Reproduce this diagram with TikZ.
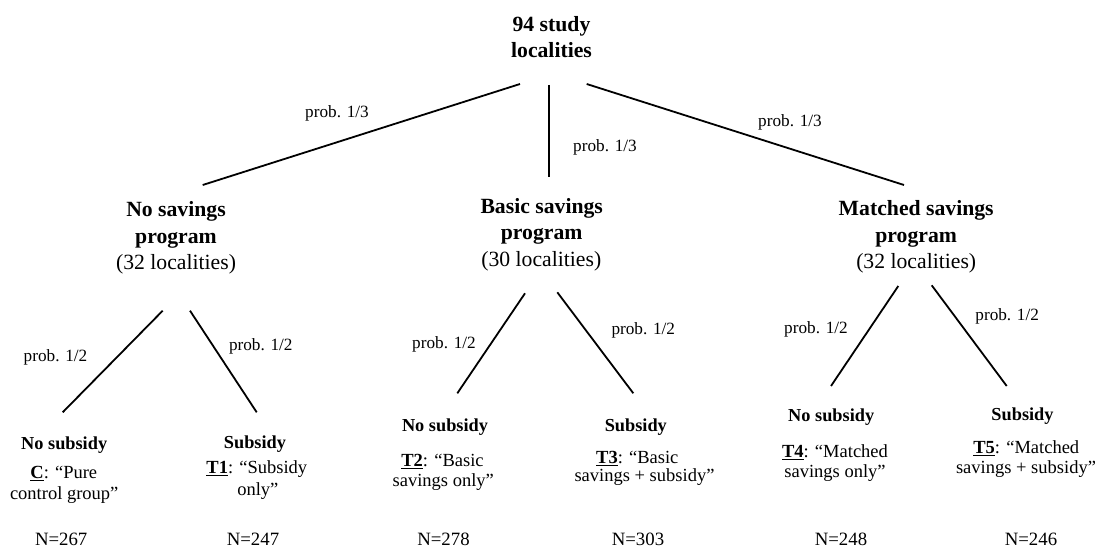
\documentclass[tikz,border=0pt]{standalone}
\usepackage{fontspec}
\setmainfont{Liberation Serif}
\newcommand\tagu[1]{\setbox0\hbox{\bfseries #1}\rlap{\rule[-2.6pt]{\wd0}{1.4pt}}\box0}
\tikzset{
  txt/.style={anchor=base, inner sep=0pt, outer sep=0pt},
  head/.style={txt, font=\fontsize{21.7}{26}\selectfont\bfseries},
  headsub/.style={txt, font=\fontsize{21.7}{26}\selectfont},
  prob/.style={txt, font=\fontsize{17.2}{20}\selectfont},
  sub/.style={txt, font=\fontsize{18.3}{22}\selectfont\bfseries},
  desc/.style={txt, font=\fontsize{18.5}{22}\selectfont},
  count/.style={txt, font=\fontsize{18.8}{22}\selectfont},
  branch/.style={line width=1.8pt, black},
}
\begin{document}
\begin{tikzpicture}[x=1pt,y=-1pt]
\useasboundingbox (0,0) rectangle (1095,548);

% root
\node[head] (root1) at (551.5,31.7) {94 study};
\node[head] (root2) at (551.5,57.3) {localities};

% level 1
\node[head] (ns1) at (176,216.7) {No savings};
\node[head] (ns2) at (176,243.3) {program};
\node[headsub] (ns3) at (176,269.3) {(32 localities)};

\node[head] (bs1) at (541.7,213.3) {Basic savings};
\node[head] (bs2) at (541.7,240) {program};
\node[headsub] (bs3) at (541.3,266.7) {(30 localities)};

\node[head] (ms1) at (916.2,215) {Matched savings};
\node[head] (ms2) at (916.2,242.7) {program};
\node[headsub] (ms3) at (916.2,268.3) {(32 localities)};

% connector end points
\coordinate (rL) at (520,84);
\coordinate (rM) at (549,85);
\coordinate (rR) at (586.7,84);
\coordinate (nsTop) at (202.7,185);
\coordinate (bsTop) at (549,177);
\coordinate (msTop) at (904,185);

\draw[branch] (rL) -- (nsTop);
\draw[branch] (rM) -- (bsTop);
\draw[branch] (rR) -- (msTop);

\node[prob] (p1) at (337,118) {prob. 1/3};
\node[prob] (p2) at (605,151.7) {prob. 1/3};
\node[prob] (p3) at (790,126.7) {prob. 1/3};

% level 2 connectors
\coordinate (nsL) at (162.7,310.7);  \coordinate (cTop) at (62.7,412.3);
\coordinate (nsR) at (190,310.7);    \coordinate (t1Top) at (256.7,412.3);
\coordinate (bsL) at (525,293.3);    \coordinate (t2Top) at (457.3,393.3);
\coordinate (bsR) at (557.3,292.3);  \coordinate (t3Top) at (633.3,393.3);
\coordinate (msL) at (898.3,286);    \coordinate (t4Top) at (831,386);
\coordinate (msR) at (931.7,285.3);  \coordinate (t5Top) at (1006.7,386);

\draw[branch] (nsL) -- (cTop);
\draw[branch] (nsR) -- (t1Top);
\draw[branch] (bsL) -- (t2Top);
\draw[branch] (bsR) -- (t3Top);
\draw[branch] (msL) -- (t4Top);
\draw[branch] (msR) -- (t5Top);

\node[prob] (q1) at (55.5,361) {prob. 1/2};
\node[prob] (q2) at (260.8,350.7) {prob. 1/2};
\node[prob] (q3) at (444,348.3) {prob. 1/2};
\node[prob] (q4) at (643.3,334) {prob. 1/2};
\node[prob] (q5) at (816,333.3) {prob. 1/2};
\node[prob] (q6) at (1007.2,320.7) {prob. 1/2};

% leaves
\node[sub] (c1) at (64.2,449.3) {No subsidy};
\node[desc] (c2) at (63.8,478.3) {\tagu{C}: “Pure};
\node[desc] (c3) at (64.2,499.3) {control group”};
\node[count] (c4) at (61.2,545) {N=267};

\node[sub] (a1) at (255,448.3) {Subsidy};
\node[desc] (a2) at (256.8,473.3) {\tagu{T1}: “Subsidy};
\node[desc] (a3) at (257.8,495) {only”};
\node[count] (a4) at (253,545) {N=247};

\node[sub] (b1) at (445,431.7) {No subsidy};
\node[desc] (b2) at (442.5,466.7) {\tagu{T2}: “Basic};
\node[desc] (b3) at (443.3,486.7) {savings only”};
\node[count] (b4) at (443.5,545) {N=278};

\node[sub] (d1) at (635.8,431.7) {Subsidy};
\node[desc] (d2) at (637.3,463.3) {\tagu{T3}: “Basic};
\node[desc] (d3) at (644.5,481.7) {savings + subsidy”};
\node[count] (d4) at (638,545) {N=303};

\node[sub] (e1) at (831.2,421.7) {No subsidy};
\node[desc] (e2) at (835,457.7) {\tagu{T4}: “Matched};
\node[desc] (e3) at (835,477.7) {savings only”};
\node[count] (e4) at (841,545) {N=248};

\node[sub] (f1) at (1022.5,420.7) {Subsidy};
\node[desc] (f2) at (1026.3,453.3) {\tagu{T5}: “Matched};
\node[desc] (f3) at (1026,473.3) {savings + subsidy”};
\node[count] (f4) at (1031,545) {N=246};
\end{tikzpicture}
\end{document}
